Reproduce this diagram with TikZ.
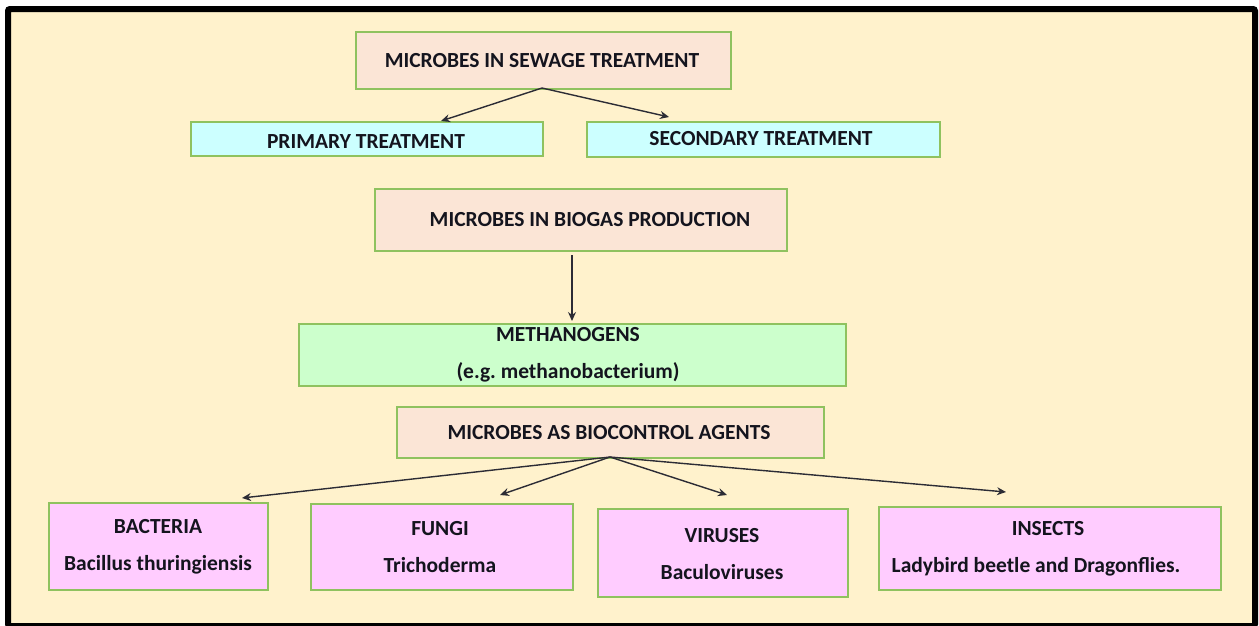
\documentclass[tikz,border=0pt]{standalone}
\usepackage{fontspec}
\setmainfont{Carlito}
\usetikzlibrary{arrows.meta}
\definecolor{cream}{RGB}{255,242,204}
\definecolor{peach}{RGB}{251,229,214}
\definecolor{bord}{RGB}{143,194,95}
\definecolor{cyanbox}{RGB}{204,255,255}
\definecolor{greenbox}{RGB}{204,255,204}
\definecolor{pinkbox}{RGB}{255,204,255}
\definecolor{ink}{RGB}{20,20,30}
\tikzset{
  box/.style={draw=bord, line width=1.8pt, inner sep=0pt, anchor=north west},
  txt/.style={inner sep=0pt, text=ink, font=\fontsize{21.5}{37}\selectfont\bfseries, align=center, yshift=-2pt},
  arr/.style={draw=ink!90, line width=1.4pt, -{Stealth[length=9pt,width=8pt]}},
}
\newcommand{\bx}[6]{% name, x1,y1,x2,y2, fill
  \path (#2,#3) node[box, fill=#6, minimum width={(#4-#2)*1pt}, minimum height={(#5-#3)*1pt}] (#1) {};}
\begin{document}
\frenchspacing
\begin{tikzpicture}[x=1pt,y=-1pt]
\useasboundingbox (0,0) rectangle (1259,625);
\fill[white] (0,0) rectangle (1259,625);
\draw[line width=6pt, fill=cream, rounded corners=2pt] (8,9) rectangle (1255,626);
% boxes
\bx{sew}{355}{31}{730}{88}{peach}
\bx{pri}{190}{121}{542}{155}{cyanbox}
\bx{sec}{586}{121}{939}{156}{cyanbox}
\bx{bio}{374}{188}{786}{250}{peach}
\bx{met}{298}{323}{845}{385}{greenbox}
\bx{bcA}{396}{406}{823}{457}{peach}
\bx{bac}{48}{502}{267}{589}{pinkbox}
\bx{fun}{310}{503}{572}{589}{pinkbox}
\bx{vir}{597}{508}{847}{596}{pinkbox}
\bx{ins}{878}{506}{1220}{589}{pinkbox}
% texts
\node[txt] (tsew) at (542,59) {MICROBES IN SEWAGE TREATMENT};
\node[txt] (tpri) at (366,140) {PRIMARY TREATMENT};
\node[txt] (tsec) at (761,137) {SECONDARY TREATMENT};
\node[txt] (tbio) at (590,218) {MICROBES IN BIOGAS PRODUCTION};
\node[txt] (tmet) at (568,353) {METHANOGENS\\(e.g. methanobacterium)};
\node[txt] (tbca) at (609,431) {MICROBES AS BIOCONTROL AGENTS};
\node[txt] (tbac) at (158,545) {BACTERIA\\Bacillus thuringiensis};
\node[txt] (tfun) at (440,545) {FUNGI\\Trichoderma};
\node[txt] (tvir) at (722,552) {VIRUSES\\Baculoviruses};
\node[txt] (tins) at (1036,547) {\makebox[0pt]{\hspace{24pt}INSECTS}\\Ladybird beetle and Dragonflies.};
% arrows
\coordinate (s0) at (542,88);
\coordinate (b0) at (572,255);
\coordinate (c0) at (610,457);
\draw[arr] (s0) -- (441,121);
\draw[arr] (s0) -- (669,117);
\draw[arr] (b0) -- (572,321);
\draw[arr] (c0) -- (242,498);
\draw[arr] (c0) -- (500,495);
\draw[arr] (c0) -- (727,495);
\draw[arr] (c0) -- (1006,492);
\end{tikzpicture}
\end{document}
